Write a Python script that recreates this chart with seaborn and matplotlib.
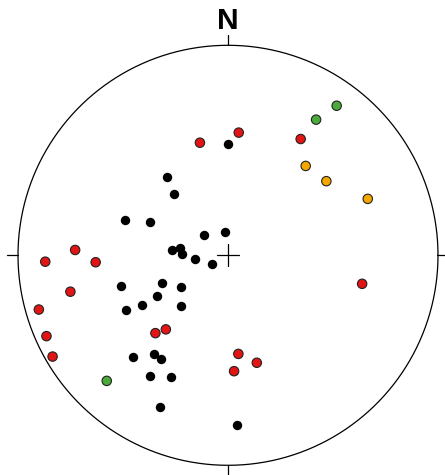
import numpy as np
import pandas as pd
import matplotlib
matplotlib.use("Agg")
import matplotlib.pyplot as plt
import seaborn as sns

# Lineation data: trend / plunge in degrees, lower-hemisphere
black_trend = [0, 322, 319, 289, 293, 310, 353, 275, 279, 272, 264, 243, 254,
               247, 236, 240, 240, 242, 223, 223, 217, 213, 213, 205, 204, 177]
black_plunge = [46, 51, 58, 47, 57, 78, 81, 68, 71, 72, 77, 83, 46,
                62, 68, 58, 51, 44, 63, 34, 41, 41, 32, 36, 22, 20]

red_trend = [346, 5, 32, 272, 268, 267, 257, 102, 254, 246, 240, 223, 220, 174, 165, 177]
red_plunge = [44, 41, 35, 28, 14, 37, 24, 35, 7, 6, 4, 48, 52, 51, 46, 44]

green_trend = [33, 36, 224]
green_plunge = [24, 13, 18]

orange_trend = [41, 53, 68]
orange_plunge = [43, 41, 29]

groups = {
    "set 1": (black_trend, black_plunge),
    "set 2": (red_trend, red_plunge),
    "set 3": (green_trend, green_plunge),
    "set 4": (orange_trend, orange_plunge),
}
colors = {"set 1": "#000000", "set 2": "#e31414", "set 3": "#4aaa3a", "set 4": "#f5a700"}

rows = []
for name, (tr, pl) in groups.items():
    for t, p in zip(tr, pl):
        rows.append({"group": name, "trend": t, "plunge": p})
df = pd.DataFrame(rows)

# Schmidt (equal-area) projection onto the unit circle
r = np.sqrt(2.0) * np.sin(np.radians(90.0 - df["plunge"]) / 2.0)
df["east"] = r * np.sin(np.radians(df["trend"]))
df["north"] = r * np.cos(np.radians(df["trend"]))

sns.set_style("white")
W, H, DPI = 445, 475, 100
fig = plt.figure(figsize=(W / DPI, H / DPI), dpi=DPI)
ax = fig.add_axes([0, 0, 1, 1])

cx, cy, R = 228.0, 255.3, 210.0
ax.set_xlim(-cx / R, (W - cx) / R)
ax.set_ylim(-(H - cy) / R, cy / R)
ax.axis("off")

# primitive circle
th = np.linspace(0, 2 * np.pi, 721)
ax.plot(np.cos(th), np.sin(th), color="black", lw=0.9)

# cardinal ticks and centre cross
t = 10.5 / R
for x0, y0, x1, y1 in [(0, 1, 0, 1 + t), (0, -1, 0, -1 - t),
                       (-1, 0, -1 - t, 0), (1, 0, 1 + t, 0)]:
    ax.plot([x0, x1], [y0, y1], color="black", lw=0.9)
c = 11 / R
ax.plot([-c, c], [0, 0], color="black", lw=0.9)
ax.plot([0, 0], [-c, c], color="black", lw=0.9)

ax.text(0, 1 + 10.5 / R, "N", ha="center", va="bottom", fontsize=21.5,
        fontweight="bold", color="black", family=["Liberation Sans", "DejaVu Sans"])

sns.scatterplot(data=df[df["group"] == "set 1"], x="east", y="north",
                color="black", s=46, linewidth=0, ax=ax, legend=False, zorder=3)
sns.scatterplot(data=df[df["group"] != "set 1"], x="east", y="north",
                hue="group", palette=colors, s=46, edgecolor="#222222",
                linewidth=0.8, ax=ax, legend=False, zorder=4)
ax.set_xlim(-cx / R, (W - cx) / R)
ax.set_ylim(-(H - cy) / R, cy / R)

fig.savefig("out.png", dpi=DPI)
